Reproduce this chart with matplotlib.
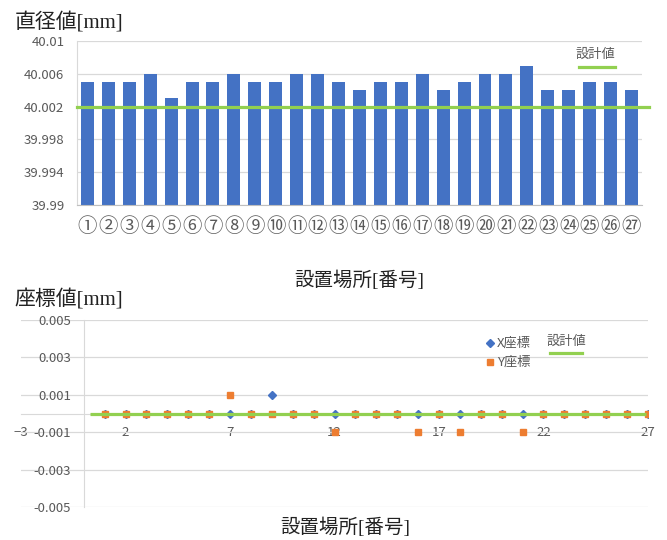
import matplotlib.pyplot as plt

plt.rcParams['font.family'] = ['Noto Sans CJK JP', 'DejaVu Sans']

# 直径値 (上のグラフ)
locations = list(range(1, 28))
circled = ['①', '②', '③', '④', '⑤', '⑥', '⑦', '⑧', '⑨', '⑩',
           '⑪', '⑫', '⑬', '⑭', '⑮', '⑯', '⑰', '⑱', '⑲', '⑳',
           '㉑', '㉒', '㉓', '㉔', '㉕', '㉖', '㉗']
diameter = [40.005, 40.005, 40.005, 40.006, 40.003, 40.005, 40.005, 40.006, 40.005,
            40.005, 40.006, 40.006, 40.005, 40.004, 40.005, 40.005, 40.006, 40.004,
            40.005, 40.006, 40.006, 40.007, 40.004, 40.004, 40.005, 40.005, 40.004]
design_diameter = 40.002
diam_ticks = [39.99, 39.994, 39.998, 40.002, 40.006, 40.01]

# 座標値 (下のグラフ)
x_coord = [0, 0, 0, 0, 0, 0, 0, 0, 0.001, 0, 0, 0, 0, 0, 0, 0, 0, 0, 0, 0, 0, 0, 0, 0, 0, 0, 0]
y_coord = [0, 0, 0, 0, 0, 0, 0.001, 0, 0, 0, 0, -0.001, 0, 0, 0, -0.001, 0, -0.001, 0, 0,
           -0.001, 0, 0, 0, 0, 0, 0]
design_coord = 0
coord_ticks = [-0.005, -0.003, -0.001, 0.001, 0.003, 0.005]
coord_xticks = [-3, 2, 7, 12, 17, 22, 27]

BLUE = '#4472C4'
ORANGE = '#ED7D31'
GREEN = '#92D050'
GRID = '#D9D9D9'
TXT = '#595959'
serif = ['Liberation Serif', 'Noto Sans CJK JP']

fig = plt.figure(figsize=(6.67, 5.4), dpi=100)

# ---- 上: 直径値 ----
ax1 = fig.add_axes([0.1154, 0.6204, 0.847, 0.3037])
pos = list(range(len(locations)))
ax1.bar(pos, diameter, width=0.62, color=BLUE, zorder=2)
ax1.axhline(design_diameter, xmin=0, xmax=1.012, color=GREEN, lw=2.3, zorder=3, clip_on=False)
ax1.set_ylim(39.99, 40.01)
ax1.set_xlim(-0.5, 26.5)
ax1.set_yticks(diam_ticks)
ax1.set_yticklabels([f'{v:g}' for v in diam_ticks])
ax1.set_xticks(pos)
ax1.set_xticklabels(circled, fontsize=14, color=TXT)
ax1.tick_params(axis='y', length=0, pad=9, labelsize=9.5, labelcolor=TXT)
ax1.tick_params(axis='x', length=0, pad=8)
ax1.grid(axis='y', color=GRID, lw=0.9, zorder=0)
for s in ['top', 'right']:
    ax1.spines[s].set_visible(False)
ax1.spines['left'].set_color(GRID)
ax1.spines['bottom'].set_color('#BFBFBF')
ax1.set_xlabel('設置場所[番号]', fontsize=14, family=serif, color='#222222', labelpad=24)
fig.text(0.022, 0.958, '直径値[mm]', fontsize=15, family=serif, color='#222222', va='center')
# 凡例
fig.text(0.8635, 0.893, '設計値', fontsize=9.5, color=TXT)
fig.add_artist(plt.Line2D([0.868, 0.922], [0.876, 0.876], color=GREEN, lw=2.3))

# ---- 下: 座標値 ----
ax2 = fig.add_axes([0.0315, 0.0611, 0.94, 0.3463])
ax2.plot(locations, x_coord, linestyle='none', marker='D', ms=3.6, color=BLUE, zorder=3)
ax2.plot(locations, y_coord, linestyle='none', marker='s', ms=5, color=ORANGE, zorder=3)
ax2.hlines(design_coord, 0.3, 26.9, color=GREEN, lw=2.3, zorder=4)
ax2.set_xlim(-3, 27)
ax2.set_ylim(-0.005, 0.005)
ax2.set_yticks(coord_ticks)
ax2.set_yticklabels([f'{v:g}' for v in coord_ticks])
ax2.set_xticks(coord_xticks)
ax2.tick_params(axis='y', length=0, pad=9, labelsize=9.5, labelcolor=TXT)
ax2.tick_params(axis='x', length=0, pad=9, labelsize=9.5, labelcolor=TXT)
ax2.grid(axis='y', color=GRID, lw=0.9, zorder=0)
ax2.spines['left'].set_position(('data', 0))
ax2.spines['bottom'].set_position(('data', 0))
ax2.spines['left'].set_color(GRID)
ax2.spines['bottom'].set_color(GRID)
for s in ['top', 'right']:
    ax2.spines[s].set_visible(False)
fig.text(0.517, 0.024, '設置場所[番号]', fontsize=14, family=serif, color='#222222', ha='center', va='center')
fig.text(0.022, 0.445, '座標値[mm]', fontsize=15, family=serif, color='#222222', va='center')
# 凡例
fig.lines.append(plt.Line2D([0.7345], [0.365], marker='D', ms=3.6, color=BLUE, ls='none', transform=fig.transFigure))
fig.text(0.745, 0.365, 'X座標', fontsize=9.5, color=TXT, va='center')
fig.lines.append(plt.Line2D([0.7345], [0.330], marker='s', ms=5, color=ORANGE, ls='none', transform=fig.transFigure))
fig.text(0.745, 0.330, 'Y座標', fontsize=9.5, color=TXT, va='center')
fig.text(0.820, 0.367, '設計値', fontsize=9.5, color=TXT, va='center')
fig.add_artist(plt.Line2D([0.825, 0.873], [0.346, 0.346], color=GREEN, lw=2.3))

fig.savefig('out.png', dpi=100)
